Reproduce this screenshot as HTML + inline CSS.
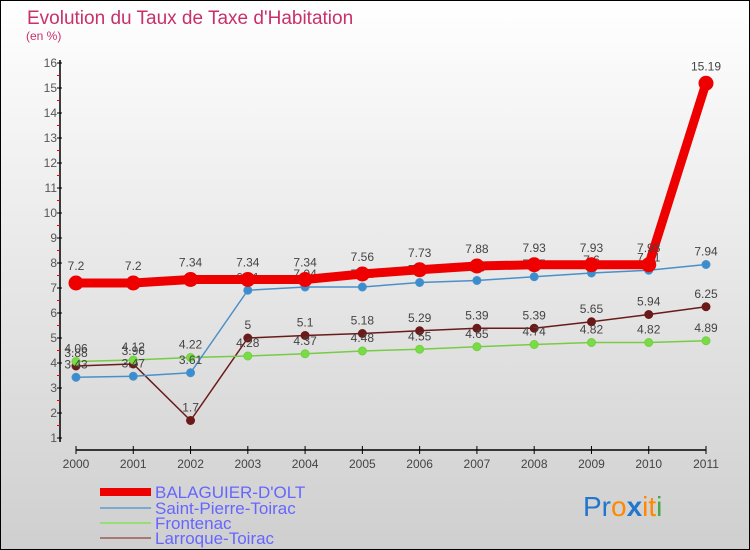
<!DOCTYPE html>
<html><head><meta charset="utf-8"><style>
body{margin:0}
#wrap{width:750px;height:550px;position:relative;overflow:hidden}
svg{font-family:"Liberation Sans","DejaVu Sans",sans-serif}
</style></head><body>
<div id="wrap">
<svg id="chart" width="750" height="550" viewBox="0 0 750 550">
<defs><linearGradient id="bg" x1="0" y1="0" x2="0" y2="1"><stop offset="0" stop-color="#ffffff"/><stop offset="1" stop-color="#cfcfcf"/></linearGradient></defs>
<rect x="0.5" y="0.5" width="749" height="549" fill="url(#bg)" stroke="#000"/>
<text x="27" y="24" font-size="19" fill="#c8306a">Evolution du Taux de Taxe d'Habitation</text>
<text x="26" y="40" font-size="12" fill="#c8306a">(en %)</text>
<g id="axes"></g><g id="series"></g>
<g>
<line x1="100" y1="492" x2="151" y2="492" stroke="#e00" stroke-width="8"/>
<text x="155" y="498" font-size="17" fill="#6666ff">BALAGUIER-D'OLT</text>
<line x1="100" y1="508" x2="151" y2="508" stroke="#7aaad0" stroke-width="2"/>
<text x="155" y="514" font-size="17" fill="#6666ff">Saint-Pierre-Toirac</text>
<line x1="100" y1="523" x2="151" y2="523" stroke="#99dd77" stroke-width="2"/>
<text x="155" y="529" font-size="17" fill="#6666ff">Frontenac</text>
<line x1="100" y1="538" x2="151" y2="538" stroke="#aa7777" stroke-width="2"/>
<text x="155" y="544" font-size="17" fill="#6666ff">Larroque-Toirac</text>
</g>
<g font-size="28" font-family="'Liberation Sans',sans-serif">
<text x="583" y="516"><tspan fill="#2277cc">Pr</tspan><tspan fill="#ff8800">o</tspan><tspan fill="#2277cc" font-weight="bold">x</tspan><tspan fill="#ff8800">it</tspan><tspan fill="#44aa44">i</tspan></text>
</g>
</svg>
</div>
<script>
const years = ["2000","2001","2002","2003","2004","2005","2006","2007","2008","2009","2010","2011"];
const yTicks = [1,2,3,4,5,6,7,8,9,10,11,12,13,14,15,16];
const balaguier = [7.2,7.2,7.34,7.34,7.34,7.56,7.73,7.88,7.93,7.93,7.93,15.19];
const saintPierre = [3.43,3.47,3.61,6.91,7.04,7.04,7.22,7.3,7.45,7.6,7.71,7.94];
const frontenac = [4.06,4.12,4.22,4.28,4.37,4.48,4.55,4.65,4.74,4.82,4.82,4.89];
const larroque = [3.88,3.96,1.7,5,5.1,5.18,5.29,5.39,5.39,5.65,5.94,6.25];

const NS="http://www.w3.org/2000/svg";
function xs(i){return 76+i*(706-76)/(years.length-1);}
function ys(v){return 63+(16-v)*25;}
function mk(tag,attrs,parent){const e=document.createElementNS(NS,tag);for(const k in attrs)e.setAttribute(k,attrs[k]);parent.appendChild(e);return e;}
const axes=document.getElementById('axes');
let yl=mk('line',{x1:60,y1:60,x2:60,y2:442,stroke:'#000','stroke-width':1.5},axes);


yTicks.forEach(t=>{
  let l=mk('line',{x1:57,y1:ys(t),x2:62,y2:ys(t),stroke:'#000'},axes);
  
  
  if(t<16){let m=mk('line',{x1:57,y1:ys(t+0.5),x2:60,y2:ys(t+0.5),stroke:'#e00'},axes);
  
  }
  let tx=mk('text',{x:57,y:ys(t)+4,'font-size':12,fill:'#555','text-anchor':'end'},axes);
  tx.textContent=t;
  
  
});
let xl=mk('line',{x1:xs(0),y1:450,x2:xs(years.length-1),y2:450,stroke:'#000','stroke-width':1.5},axes);


years.forEach((y,i)=>{
  let l=mk('line',{x1:xs(i),y1:446,x2:xs(i),y2:454,stroke:'#000'},axes);
  
  
  let t=mk('text',{x:xs(i),y:468,'font-size':12,fill:'#444','text-anchor':'middle'},axes);
  t.textContent=y;
  
  
});
const sg=document.getElementById('series');
function draw(vals,name,color,w,r,fill,lblOff){
  const g=mk('g',{},sg);
  
  
  let p=mk('polyline',{points:vals.map((v,i)=>xs(i)+','+ys(v)).join(' '),fill:'none',stroke:color,'stroke-width':w,'stroke-linejoin':'round'},g);
  
  
  vals.forEach((v,i)=>{
    let c=mk('circle',{cx:xs(i),cy:ys(v),r:r,fill:fill,stroke:color,'stroke-width':1},g);
    
    
    let t=mk('text',{x:xs(i),y:ys(v)-lblOff,'font-size':12,fill:'#444','text-anchor':'middle'},g);
    t.textContent=v;
    
    
  });
}
draw(larroque,'larroque','#6b1a1a',1.5,4,'#6b1a1a',9);
draw(frontenac,'frontenac','#77cc44',1.5,4,'#77dd44',9);
draw(saintPierre,'saint-pierre','#4a90c8',1.5,4,'#3a8ed0',9);
draw(balaguier,'balaguier','#ee0000',9,7,'#ee0000',13);
</script>
</body></html>
